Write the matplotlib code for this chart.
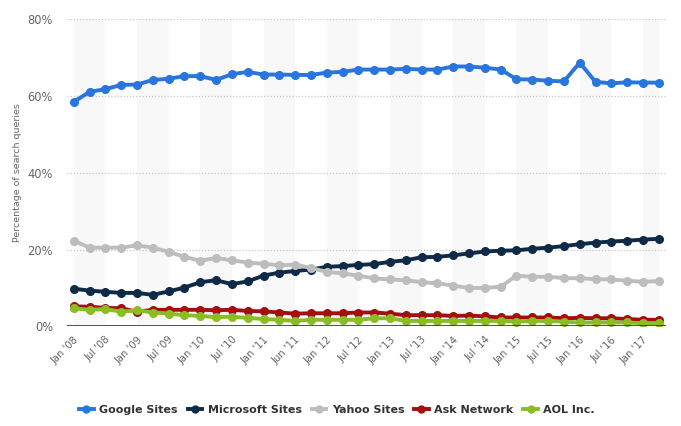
import matplotlib
matplotlib.use("Agg")
import matplotlib.pyplot as plt
from matplotlib.lines import Line2D

# Quarterly observations, Jan '08 .. Apr '17
tick_labels = ["Jan '08", "Jul '08", "Jan '09", "Jul '09", "Jan '10", "Jul '10",
               "Jan '11", "Jun '11", "Jan '12", "Jul '12", "Jan '13", "Jul '13",
               "Jan '14", "Jul '14", "Jan '15", "Jul '15", "Jan '16", "Jul '16",
               "Jan '17"]

google = [58.5, 61.1, 61.8, 62.9, 63.0, 64.2, 64.5, 65.2, 65.2, 64.2,
          65.7, 66.3, 65.6, 65.6, 65.5, 65.5, 66.1, 66.3, 66.9, 66.9,
          66.9, 67.1, 66.9, 66.9, 67.7, 67.7, 67.4, 66.9, 64.4, 64.3,
          64.0, 63.8, 68.7, 63.7, 63.3, 63.6, 63.5, 63.5]
microsoft = [9.8, 9.3, 9.0, 8.7, 8.7, 8.2, 9.1, 10.1, 11.5, 12.0,
             11.0, 11.7, 13.2, 14.0, 14.4, 14.8, 15.5, 15.7, 16.0, 16.2,
             16.8, 17.2, 18.0, 18.1, 18.5, 19.0, 19.5, 19.7, 19.8, 20.2,
             20.5, 20.9, 21.4, 21.8, 22.1, 22.3, 22.6, 22.8]
yahoo = [22.3, 20.5, 20.5, 20.5, 21.1, 20.5, 19.4, 18.1, 17.1, 17.8,
         17.2, 16.6, 16.3, 15.9, 16.1, 15.2, 14.2, 13.8, 13.2, 12.5,
         12.2, 12.0, 11.5, 11.2, 10.6, 10.0, 10.0, 10.3, 13.2, 12.9,
         12.9, 12.6, 12.5, 12.3, 12.2, 11.9, 11.6, 11.8]
ask = [5.2, 5.1, 4.8, 4.7, 3.8, 4.3, 4.3, 4.3, 4.3, 4.2,
       4.3, 4.0, 3.9, 3.6, 3.3, 3.4, 3.4, 3.4, 3.6, 3.6,
       3.3, 2.9, 2.9, 2.9, 2.7, 2.8, 2.6, 2.3, 2.3, 2.3,
       2.3, 2.1, 2.2, 2.1, 2.1, 1.9, 1.7, 1.7]
aol = [4.7, 4.3, 4.5, 3.8, 4.2, 3.6, 3.3, 2.9, 2.7, 2.4,
       2.5, 2.2, 1.9, 1.7, 1.4, 1.7, 1.7, 1.7, 1.7, 2.1,
       2.1, 1.4, 1.4, 1.4, 1.4, 1.4, 1.4, 1.4, 1.2, 1.4,
       1.4, 1.2, 1.0, 1.0, 1.0, 1.0, 0.8, 0.9]

series_names = ["Google Sites", "Microsoft Sites", "Yahoo Sites", "Ask Network", "AOL Inc."]
series_values = [google, microsoft, yahoo, ask, aol]
colors = ["#2876dd", "#0e2a47", "#bdbdbd", "#a30f0f", "#8abd24"]

fig = plt.figure(figsize=(6.81, 4.26), dpi=100)
ax = fig.add_axes([0.0984, 0.234, 0.8796, 0.7207])

n = len(google)
x = list(range(n))

# alternating background bands
for k in range(0, n, 4):
    ax.axvspan(k, min(k + 2, n - 1), color="#f8f8f8", zorder=0, lw=0)

for yv in [20, 40, 60, 80]:
    ax.axhline(yv, color="#c8c8c8", lw=0.9, ls=(0, (1, 1.5)), zorder=1)

for name, vals, c in zip(series_names, series_values, colors):
    ax.plot(x, vals, color=c, lw=2.8, marker="o", ms=5.5, zorder=3,
            solid_joinstyle="round", label=name)

ax.axhline(0, color="#222222", lw=1.1, zorder=4)

ax.set_xlim(-0.43, n - 1 + 0.46)
ax.set_ylim(0, 80)
ax.set_yticks([0, 20, 40, 60, 80])
ax.set_yticklabels(["0%", "20%", "40%", "60%", "80%"])
ax.set_xticks(list(range(0, n, 2))[:len(tick_labels)])
ax.set_xticklabels(tick_labels, rotation=45, ha="right", rotation_mode="anchor")
ax.tick_params(axis="x", length=0, labelsize=7.2, labelcolor="#666666", pad=6)
ax.tick_params(axis="y", length=0, labelsize=8.3, labelcolor="#666666", pad=10)
for s in ax.spines.values():
    s.set_visible(False)

ax.set_ylabel("Percentage of search queries", fontsize=6.8, color="#666666", labelpad=4)

handles = [Line2D([0], [0], color=c, lw=2.8, marker="o", ms=5.0) for c in colors]
leg = fig.legend(handles, series_names, loc="center", bbox_to_anchor=(0.495, 0.037),
                 ncol=5, frameon=False, handlelength=1.3, handletextpad=0.5,
                 columnspacing=0.9, prop={"size": 8, "weight": "bold"})
for t in leg.get_texts():
    t.set_color("#333333")

fig.savefig("out.png", dpi=100)
